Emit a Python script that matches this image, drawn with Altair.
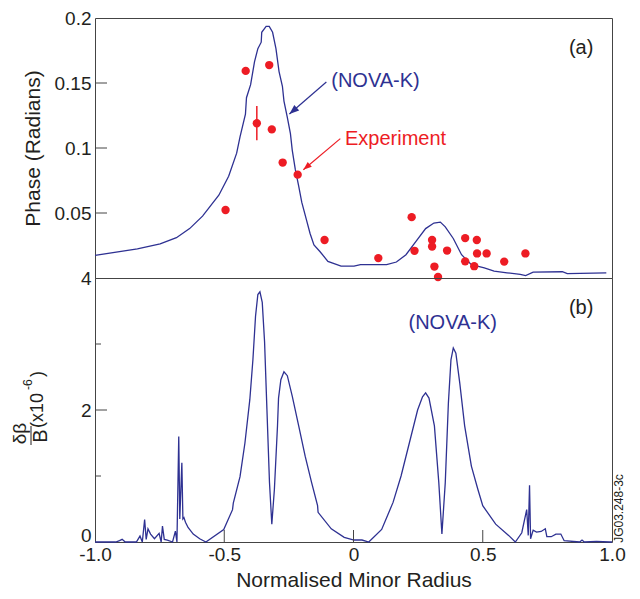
import altair as alt
import pandas as pd

# ---------------- data ----------------
# (a) NOVA-K phase curve
nova_a_x = [-1.0, -0.836, -0.748, -0.685, -0.634, -0.584, -0.521, -0.483, -0.452, -0.439, -0.418, -0.414,
            -0.398, -0.383, -0.370, -0.357, -0.355, -0.338, -0.326, -0.313, -0.300, -0.288, -0.275, -0.269,
            -0.256, -0.244, -0.237, -0.225, -0.212, -0.200, -0.183, -0.168, -0.153, -0.130, -0.099, -0.048,
            0.002, 0.027, 0.128, 0.166, 0.203, 0.241, 0.279, 0.311, 0.336, 0.355, 0.386, 0.418, 0.456,
            0.506, 0.544, 0.594, 0.645, 0.666, 0.695, 0.808, 0.827, 0.978]
nova_a_y = [0.0174, 0.0224, 0.0262, 0.031, 0.038, 0.0476, 0.0637, 0.0783, 0.096, 0.1085, 0.126, 0.1387,
            0.1487, 0.1663, 0.1764, 0.1814, 0.189, 0.1935, 0.1935, 0.189, 0.1764, 0.1588, 0.1475, 0.1361,
            0.1236, 0.111, 0.0984, 0.0833, 0.0707, 0.0581, 0.0455, 0.0342, 0.0254, 0.0204, 0.0128, 0.0091,
            0.0091, 0.0103, 0.0103, 0.0123, 0.0179, 0.0279, 0.038, 0.0423, 0.043, 0.0393, 0.0304, 0.0179, 0.0103,
            0.0078, 0.0053, 0.004, 0.0028, 0.0018, 0.0045, 0.0048, 0.0033, 0.004]

# (a) experiment points
exp_x = [-0.495, -0.417, -0.374, -0.326, -0.316, -0.274, -0.216, -0.112, 0.096, 0.225, 0.236, 0.304,
         0.304, 0.313, 0.327, 0.362, 0.432, 0.477, 0.432, 0.467, 0.478, 0.515, 0.583, 0.665]
exp_y = [0.0523, 0.1593, 0.119, 0.1638, 0.1143, 0.0888, 0.0795, 0.0292, 0.0153, 0.0468, 0.0209, 0.0292,
         0.0242, 0.0088, 0.0008, 0.0211, 0.0307, 0.0292, 0.0128, 0.0091, 0.0189, 0.0189, 0.0126, 0.0189]
err_x = [-0.374]
err_lo = [0.1059]
err_hi = [0.1324]

# (b) NOVA-K delta beta / B
nova_b_x = [-1.0, -0.95, -0.92, -0.905, -0.895, -0.883, -0.84, -0.826, -0.817, -0.808, -0.802, -0.795,
            -0.785, -0.77, -0.752, -0.744, -0.739, -0.732, -0.72, -0.70, -0.689, -0.683, -0.676, -0.672,
            -0.664, -0.660, -0.656, -0.650, -0.640, -0.620, -0.595, -0.571,
            -0.502, -0.468, -0.465, -0.439, -0.420, -0.401, -0.389, -0.379, -0.370, -0.362, -0.353, -0.344,
            -0.335, -0.325, -0.316, -0.306, -0.294, -0.290, -0.281, -0.269, -0.256, -0.237, -0.212, -0.187,
            -0.162, -0.139, -0.137, -0.086, -0.036, 0.002, 0.033, 0.059, 0.109, 0.153, 0.184, 0.216, 0.248,
            0.267, 0.279, 0.292, 0.313, 0.330, 0.342, 0.355, 0.367, 0.377, 0.386, 0.396, 0.411, 0.430, 0.456,
            0.481, 0.500, 0.550, 0.600, 0.626, 0.651, 0.670, 0.676, 0.681, 0.685, 0.695, 0.708, 0.726, 0.742,
            0.748, 0.765, 0.783, 0.802, 0.815, 0.875, 0.884, 0.893, 0.94, 0.991, 1.0]
nova_b_y = [0, 0, 0, 0.02, 0.04, 0, 0, 0.09, 0, 0.34, 0.04, 0.2,
            0.12, 0.05, 0.13, 0, 0.24, 0.04, 0.03, 0, 0.165, 0, 1.6, 0.35,
            1.2, 0.35, 0.37, 0.3, 0.22, 0.12, 0.05, 0,
            0.19, 0.49, 0.59, 0.99, 1.5, 2.16, 2.77, 3.42, 3.75, 3.79, 3.63, 3.03,
            2.02, 0.9, 0.27, 0.8, 1.76, 2.18, 2.46, 2.58, 2.52, 2.21, 1.76, 1.30,
            0.9, 0.55, 0.45, 0.2, 0.07, 0.03, 0.03, 0.0, 0.19, 0.6, 1.0, 1.5, 2.0,
            2.2, 2.26, 2.18, 1.76, 0.9, 0.12, 0.9, 2.1, 2.76, 2.94, 2.86, 2.41, 1.76, 1.15,
            0.8, 0.55, 0.27, 0.1, 0.0, 0.14, 0.49, 0.1, 0.86, 0.05, 0.18, 0.15, 0.16, 0.2,
            0.08, 0.08, 0.12, 0.12, 0.02, 0.0, 0.03, 0.0, 0.01, 0.0, 0.0]

# ticks
ya_ticks = [0.05, 0.1, 0.15]
ya_labels = [0.05, 0.1, 0.15, 0.2]
yb_major = [2]
yb_minor = [1, 3]
yb_labels = [0, 2, 4]
x_ticks = [-0.5, 0, 0.5]
x_labels = [-1.0, -0.5, 0, 0.5, 1.0]

# annotations (data coordinates)
arrow_x1 = [-0.105, -0.051]
arrow_y1 = [0.1508, 0.1072]
arrow_x2 = [-0.248, -0.194]
arrow_y2 = [0.1261, 0.0833]
arrow_col = ["blue", "red"]

# ---------------- style ----------------
FONT = "Liberation Sans"
BLUE = "#2E3192"
RED = "#ED1C24"
FRAME = "#444444"
TXT = "#231F20"
W = 517
H_A = 260
H_B = 264

xs = alt.Scale(domain=[-1, 1], nice=False, zero=False)
yas = alt.Scale(domain=[0, 0.2], nice=False, zero=False)
ybs = alt.Scale(domain=[0, 4], nice=False, zero=False)

df_a = pd.DataFrame({"x": nova_a_x, "y": nova_a_y, "i": list(range(len(nova_a_x)))})
df_e = pd.DataFrame({"x": exp_x, "y": exp_y})
df_err = pd.DataFrame({"x": err_x, "lo": err_lo, "hi": err_hi})
df_b = pd.DataFrame({"x": nova_b_x, "y": nova_b_y, "i": list(range(len(nova_b_x)))})
df_arr = pd.DataFrame({"x1": arrow_x1, "y1": arrow_y1, "x2": arrow_x2, "y2": arrow_y2, "c": arrow_col})

XA = dict(scale=xs, title=None)
YA = dict(scale=yas, title="Phase (Radians)")

# ---------------- panel (a) ----------------
line_a = alt.Chart(df_a).mark_line(color=BLUE, strokeWidth=1.3).encode(
    x=alt.X("x:Q", scale=xs, axis=None),
    y=alt.Y("y:Q", scale=yas, title="Phase (Radians)",
            axis=alt.Axis(values=ya_labels, format="~g", titlePadding=11)),
    order="i:Q",
)
err_a = alt.Chart(df_err).mark_rule(color=RED, strokeWidth=1.5).encode(
    x=alt.X("x:Q", **XA),
    y=alt.Y("lo:Q", **YA),
    y2="hi:Q",
)
pts_a = alt.Chart(df_e).mark_point(filled=True, color=RED, opacity=1, size=70, shape="circle").encode(
    x=alt.X("x:Q", **XA),
    y=alt.Y("y:Q", **YA),
)
ticks_a = alt.Chart(pd.DataFrame({"v": ya_ticks})).mark_rule(color=FRAME, strokeWidth=1).encode(
    y=alt.Y("v:Q", **YA),
    x=alt.value(0), x2=alt.value(12),
)
arr_lines = alt.Chart(df_arr).mark_rule(strokeWidth=1.2).encode(
    x=alt.X("x1:Q", **XA),
    y=alt.Y("y1:Q", **YA),
    x2="x2:Q", y2="y2:Q",
    color=alt.Color("c:N", scale=alt.Scale(domain=["blue", "red"], range=[BLUE, RED]), legend=None),
)
head_blue = alt.Chart(df_arr[df_arr.c == "blue"]).mark_point(
    shape="M0,0L-0.38,1L0.38,1Z", filled=True, opacity=1, color=BLUE, size=380, angle=229
).encode(x=alt.X("x2:Q", **XA), y=alt.Y("y2:Q", **YA))
head_red = alt.Chart(df_arr[df_arr.c == "red"]).mark_point(
    shape="M0,0L-0.38,1L0.38,1Z", filled=True, opacity=1, color=RED, size=280, angle=230
).encode(x=alt.X("x2:Q", **XA), y=alt.Y("y2:Q", **YA))

txt_a = alt.Chart(pd.DataFrame({
    "x": [-0.086, -0.033], "y": [0.1517, 0.1072],
    "t": ["(NOVA-K)", "Experiment"], "c": ["blue", "red"]})).mark_text(
    font=FONT, fontSize=20, baseline="middle", align="left").encode(
    x=alt.X("x:Q", **XA),
    y=alt.Y("y:Q", **YA),
    text="t:N",
    color=alt.Color("c:N", scale=alt.Scale(domain=["blue", "red"], range=[BLUE, RED]), legend=None),
)
lab_a = alt.Chart(pd.DataFrame({"x": [0.928], "y": [0.1766], "t": ["(a)"]})).mark_text(
    font=FONT, fontSize=20, baseline="middle", align="right", color=TXT).encode(
    x=alt.X("x:Q", **XA),
    y=alt.Y("y:Q", **YA),
    text="t:N",
)

panel_a = alt.layer(line_a, err_a, pts_a, ticks_a, arr_lines, head_blue, head_red, txt_a, lab_a).properties(
    width=W, height=H_A)

# ---------------- panel (b) ----------------
XB = dict(scale=xs, title="Normalised Minor Radius")
YB = dict(scale=ybs, title=None)

line_b = alt.Chart(df_b).mark_line(color=BLUE, strokeWidth=1.3).encode(
    x=alt.X("x:Q", scale=xs, title="Normalised Minor Radius",
            axis=alt.Axis(values=x_labels, labelFlush=False, labelPadding=3, titlePadding=5,
                          labelExpr="datum.value == 0 ? '0' : (datum.value < 0 ? '-' : '') + format(abs(datum.value), '.1f')")),
    y=alt.Y("y:Q", scale=ybs, title=None,
            axis=alt.Axis(values=yb_labels, format="d",
                          labelOffset={"condition": {"test": "datum.value === 0", "value": -7}, "value": 0})),
    order="i:Q",
)
ticks_b_major = alt.Chart(pd.DataFrame({"v": yb_major})).mark_rule(color=FRAME).encode(
    y=alt.Y("v:Q", **YB), x=alt.value(0), x2=alt.value(12))
ticks_b_minor = alt.Chart(pd.DataFrame({"v": yb_minor})).mark_rule(color=FRAME).encode(
    y=alt.Y("v:Q", **YB), x=alt.value(0), x2=alt.value(6))
ticks_b_x = alt.Chart(pd.DataFrame({"v": x_ticks})).mark_rule(color=FRAME).encode(
    x=alt.X("v:Q", **XB), y=alt.value(H_B), y2=alt.value(H_B - 12))

lab_b = alt.Chart(pd.DataFrame({"x": [0.928], "y": [3.55], "t": ["(b)"]})).mark_text(
    font=FONT, fontSize=20, baseline="middle", align="right", color=TXT).encode(
    x=alt.X("x:Q", **XB), y=alt.Y("y:Q", **YB), text="t:N")
nova_b_lab = alt.Chart(pd.DataFrame({"x": [0.384], "y": [3.32], "t": ["(NOVA-K)"]})).mark_text(
    font=FONT, fontSize=20, baseline="middle", align="center", color=BLUE).encode(
    x=alt.X("x:Q", **XB), y=alt.Y("y:Q", **YB), text="t:N")


# y-axis title of panel (b) built from pieces
def piece(t, x, y, size, align="center", baseline="middle"):
    return alt.Chart(pd.DataFrame({"t": [t]})).mark_text(
        font=FONT, fontSize=size, angle=270, align=align, baseline=baseline, color=TXT).encode(
        text="t:N", x=alt.value(x), y=alt.value(y))


t_db = piece("δβ", -75, 155.5, 19)
t_B = piece("B", -54.5, 158, 20)
t_x10 = piece("(x10", -52, 150, 18, align="left", baseline="alphabetic")
t_exp = piece("-6", -63, 112, 12, align="left", baseline="alphabetic")
t_par = piece(")", -52, 99, 18, align="left", baseline="alphabetic")
bar = alt.Chart(pd.DataFrame({"t": [0]})).mark_rule(color=TXT, strokeWidth=1).encode(
    x=alt.value(-64), y=alt.value(148), y2=alt.value(167))
jg = piece("JG03.248-3c", W + 7, 230.5, 12)

panel_b = alt.layer(line_b, ticks_b_major, ticks_b_minor, ticks_b_x, lab_b, nova_b_lab,
                    t_db, t_B, t_x10, t_exp, t_par, bar, jg).properties(width=W, height=H_B)

chart = alt.vconcat(panel_a, panel_b, spacing=0, bounds="flush").properties(
    padding={"left": 2, "top": 0, "right": 0, "bottom": 0}
).configure_view(stroke=FRAME, strokeWidth=1).configure_axis(
    labelFont=FONT, labelFontSize=19, labelColor=TXT,
    titleFont=FONT, titleFontSize=21, titleColor=TXT, titleFontWeight="normal",
    domain=False, ticks=False, tickSize=0, grid=False, labelPadding=4,
)

chart.save("out.html", embed_options={"renderer": "svg", "actions": False})
